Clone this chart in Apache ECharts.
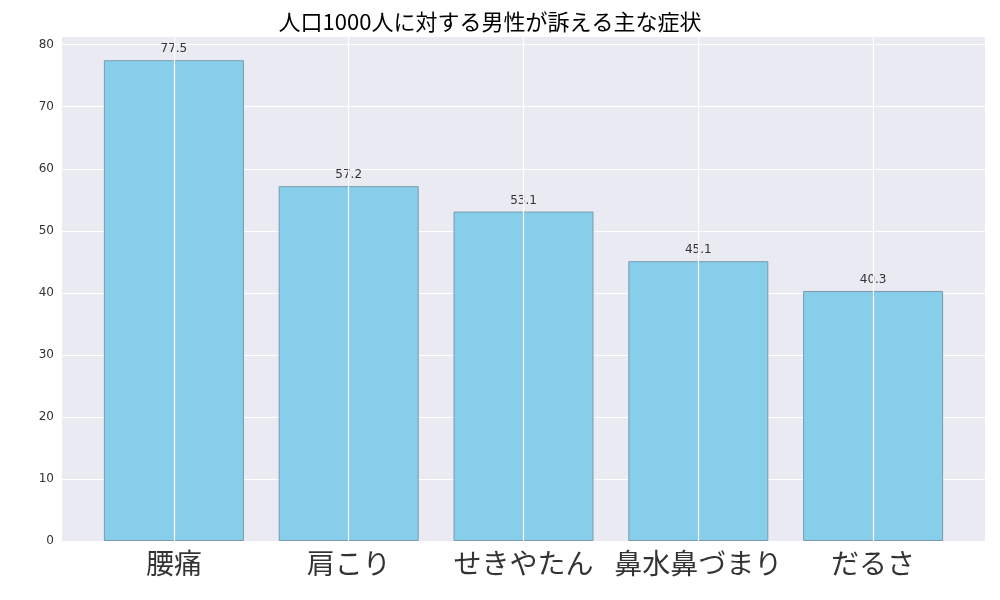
<!DOCTYPE html><html><head><meta charset="utf-8">
<script src="https://cdn.jsdelivr.net/npm/echarts@6/dist/echarts.min.js"></script></head>
<body style="margin:0"><div id="c" style="width:1000px;height:600px"></div>
<script>
const categories=['腰痛','肩こり','せきやたん','鼻水鼻づまり','だるさ'];
const values=[77.5,57.2,53.1,45.1,40.3];
const title='人口1000人に対する男性が訴える主な症状';
const font='Noto Sans CJK JP';
const chart=echarts.init(document.getElementById('c'));
chart.setOption({
 animation:false,
 title:{text:title,left:485,textAlign:'center',top:6,textStyle:{fontFamily:font,fontSize:22,fontWeight:'normal',color:'#000'}},
 grid:{left:62,right:15,top:36,bottom:59,show:true,backgroundColor:'#EAEAF2',borderWidth:0},
 xAxis:{type:'value',min:-0.64,max:4.64,axisLine:{show:false},axisTick:{show:false},axisLabel:{show:false},splitLine:{show:false}},
 yAxis:{type:'value',min:0,max:81.4,interval:10,axisLine:{show:false},axisTick:{show:false},
  axisLabel:{color:'#333',fontSize:12,fontFamily:'DejaVu Sans',formatter:v=>Math.abs(v%10)<1e-6?String(v):''},
  splitLine:{lineStyle:{color:'#fff',width:1.2}}},
 series:[
  {type:'scatter',z:1,symbolSize:0,data:categories.map((c,i)=>[i,0]),
   label:{show:true,position:'bottom',distance:8,formatter:p=>categories[p.dataIndex],fontFamily:font,fontSize:28,color:'#000'},
   markLine:{silent:true,symbol:'none',label:{show:false},lineStyle:{color:'#fff',width:1.2,type:'solid'},
    data:categories.map((c,i)=>({xAxis:i}))}},
  {type:'bar',z:2,barWidth:140,data:values.map((v,i)=>[i,v]),
   itemStyle:{color:'#87CEEB',borderColor:'#7a9aaa',borderWidth:1},
   label:{show:true,position:'top',distance:5,formatter:p=>values[p.dataIndex].toFixed(1),color:'#333',fontSize:12,fontFamily:'DejaVu Sans'}}
 ]
});
</script></body></html>
